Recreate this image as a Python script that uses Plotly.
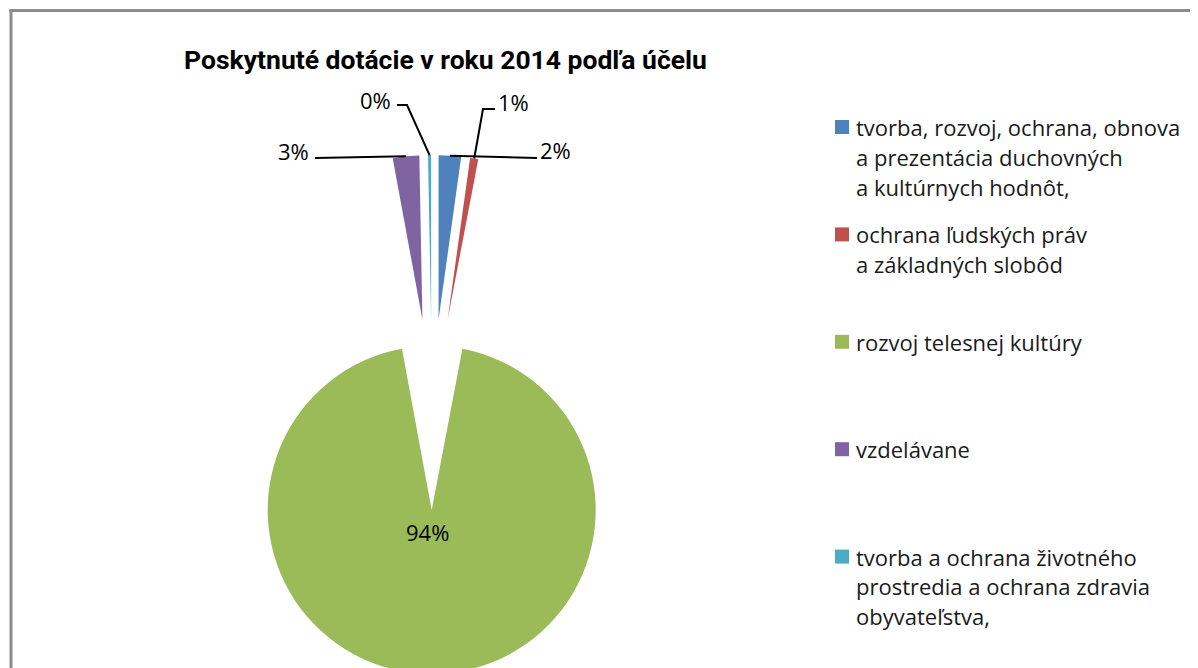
import math
import plotly.graph_objects as go

# ---------------- data ----------------
categories = [
    "tvorba, rozvoj, ochrana, obnova<br>a prezentácia duchovných<br>a kultúrnych hodnôt,",
    "ochrana ľudských práv<br>a základných slobôd",
    "rozvoj telesnej kultúry",
    "vzdelávane",
    "tvorba a ochrana životného<br>prostredia a ochrana zdravia<br>obyvateľstva,",
]
shares = [2.2, 0.8, 94.1, 2.6, 0.3]
colors = ["#4F81BD", "#C0504D", "#9BBB59", "#8064A2", "#4BACC6"]
title_text = "Poskytnuté dotácie v roku 2014 podľa účelu"
caption_text = "Graf č. 4"

# ---------------- layout constants ----------------
W, H = 1198, 668
OFF = 8                      # page body margin: figure starts 8px right/down
def px(x):                   # page x -> paper x
    return (x - OFF) / W
def py(y):                   # page y -> paper y
    return 1 - (y - OFF) / H

PIE_CX, PIE_CY = 432, 414.5  # page pixels of the (un-pulled) pie centre
PULL = 0.582
PIE_R = 164
PIE_BOX = 2 * PIE_R * (1 + PULL)
# label text centres (page pixels)
label_pos = {0: (555, 150), 1: (513, 102), 2: (427, 532), 3: (293, 151), 4: (375, 100)}
# leader-line bends after the slice tip (page pixels)
leader_pts = {0: [(537, 158)],
              1: [(483, 109), (495, 109)],
              3: [(315, 158)],
              4: [(407, 105), (397, 105)]}
LEG_X_BOX = 835
LEG_X_TEXT = 854
LEG_Y0 = 127
LEG_STEP = 107.4
LEG_LINE = 29.8
LEG_FONT = "Open Sans, Noto Sans, DejaVu Sans, sans-serif"
TITLE_FONT = "Roboto, Liberation Sans, sans-serif"

total = sum(shares)
pct_text = [f"{round(v / total * 100)}%" for v in shares]

fig = go.Figure()
fig.add_trace(go.Pie(
    labels=categories,
    values=shares,
    sort=False,
    direction="clockwise",
    rotation=0,
    pull=PULL,
    marker=dict(colors=colors, line=dict(width=0)),
    textinfo="none",
    domain=dict(x=[px(PIE_CX - PIE_BOX / 2), px(PIE_CX + PIE_BOX / 2)],
                y=[py(PIE_CY + PIE_BOX / 2), py(PIE_CY - PIE_BOX / 2)]),
    showlegend=False,
    hoverinfo="label+percent",
))

# data labels with leader lines (geometry mirrors plotly's pie layout)
annotations = []
shapes = []
cum = 0.0
for i, v in enumerate(shares):
    mid = 2 * math.pi * (cum + v / 2) / total
    cum += v
    lx, ly = label_pos[i]
    annotations.append(dict(x=px(lx), y=py(ly), xref="paper", yref="paper",
                            xanchor="center", yanchor="middle",
                            text=pct_text[i], showarrow=False,
                            font=dict(family=LEG_FONT, size=22, color="#000000")))
    if i in leader_pts:
        tx = PIE_CX + (1 + PULL) * PIE_R * math.sin(mid)
        ty = PIE_CY - (1 + PULL) * PIE_R * math.cos(mid)
        pts = [(tx, ty)] + leader_pts[i]
        path = "M " + " L ".join(f"{px(a):.5f},{py(b):.5f}" for a, b in pts)
        shapes.append(dict(type="path", xref="paper", yref="paper", path=path,
                           line=dict(color="#000000", width=2)))

# legend (manual, evenly distributed like the original)
for i, (lab, col) in enumerate(zip(categories, colors)):
    y0 = LEG_Y0 + i * LEG_STEP
    shapes.append(dict(type="rect", xref="paper", yref="paper",
                       x0=px(LEG_X_BOX), x1=px(LEG_X_BOX + 14),
                       y0=py(y0 + 7), y1=py(y0 - 7),
                       fillcolor=col, line=dict(width=0)))
    for j, line in enumerate(lab.split("<br>")):
        annotations.append(dict(
            x=px(LEG_X_TEXT), y=py(y0 + j * LEG_LINE),
            xref="paper", yref="paper", xanchor="left", yanchor="middle",
            text=line, showarrow=False,
            font=dict(family=LEG_FONT, size=22, color="#1a1a1a"),
        ))

# caption above the frame (cut off at the top, as in the original)
annotations.append(dict(
    x=px(612), y=1 - 1.5 / H, xref="paper", yref="paper",
    xanchor="center", yanchor="bottom", text=f"<b>{caption_text}</b>",
    showarrow=False, font=dict(family="Liberation Sans, Arial, sans-serif", size=22, color="#000000"),
))

# frame
shapes.append(dict(type="line", xref="paper", yref="paper",
                   x0=px(11), x1=px(11), y0=0, y1=py(9.5),
                   line=dict(color="#8c8c8c", width=3)))
shapes.append(dict(type="line", xref="paper", yref="paper",
                   x0=px(9.5), x1=1, y0=py(10.5), y1=py(10.5),
                   line=dict(color="#8c8c8c", width=3)))

fig.update_layout(
    width=W, height=H,
    margin=dict(l=0, r=0, t=0, b=0),
    paper_bgcolor="#ffffff",
    plot_bgcolor="#ffffff",
    title=dict(text=f"<b>{title_text}</b>", x=px(445.5), y=py(60),
               xref="container", yref="container",
               xanchor="center", yanchor="middle",
               font=dict(family=TITLE_FONT, size=26.5, color="#000000")),
    annotations=annotations,
    shapes=shapes,
    showlegend=False,
)

fig.write_html("out.html")
